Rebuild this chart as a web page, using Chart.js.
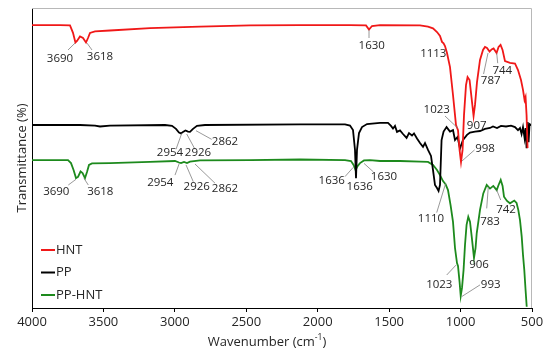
<!DOCTYPE html>
<html>
<head>
<meta charset="utf-8">
<script src="https://cdn.jsdelivr.net/npm/chart.js@4.4.1/dist/chart.umd.min.js"></script>
<style>
  html, body { margin: 0; padding: 0; background: #fff; }
  #wrap { width: 550px; height: 354px; }
</style>
</head>
<body>
<div id="wrap"><canvas id="ftir" width="550" height="354"></canvas></div>
<script>
// wavenumber (cm-1) and transmittance (arbitrary offset units)
const hntWave = [4000,3804,3734,3713,3696,3685,3664,3643,3622,3608,3594,3559,3454,3174,2824,2474,2124,1774,1662,1641,1620,1564,1284,1228,1193,1165,1144,1130,1119,1109,1095,1074,1053,1032,1018,1007,997,986,976,962,951,937,927,909,899,885,864,843,829,815,797,783,769,748,734,720,706,689,654,619,598,577,563,552,545,538,531];
const hntT = [94.3,94.3,94.2,91.7,88.5,89,90.5,90,88.5,90,91.7,92.2,92.5,93.3,93.8,94.2,94.3,94.3,94.2,92.8,94,94.3,94.2,93.8,93.2,92,90.7,88.7,88.2,87.3,85,80.3,71,61,59.3,52.7,48.7,52.7,64.3,74.3,77,76,71.7,64,67.7,75.3,82.7,86,87,86.7,85.5,86.2,86.5,85,87,87.7,86,82.3,81.7,81.5,79.3,76,72.7,69.3,70.3,64.3,53.3];

const ppWave = [4000,3664,3559,3524,3454,3069,3020,2992,2971,2957,2943,2926,2908,2894,2873,2845,2789,2124,1809,1774,1753,1739,1732,1725,1711,1690,1655,1564,1508,1487,1473,1459,1445,1424,1403,1378,1361,1340,1326,1305,1284,1263,1249,1228,1207,1193,1179,1165,1154,1144,1133,1119,1098,1074,1053,1039,1021,1004,983,955,934,899,864,829,794,773,745,717,682,647,619,598,584,573,563,552,545,538,531,524,517,507,500];
const ppT = [61,61,60.8,60.5,60.8,61,60.7,59.7,58.5,58.2,58.7,59.2,58.8,58.7,59.7,60.7,61,61.2,61.2,60.8,59.3,52.7,43.3,52.7,58.3,60.3,61.3,61.7,61.7,60.7,59.8,60.7,58.7,59.2,58,56.7,58.3,57.5,58.2,56.5,55,53.7,55,52.7,50.7,46,41,40,39,41,56,58.8,60.3,58.8,59.3,56,57,53.2,56,57.7,58.5,58.8,59,59.7,60,60.5,60,60.7,60.5,60.8,60.3,59.3,60,58,60.3,56.7,60,53.3,62,55.3,61.3,61,61];

const pphntWave = [4000,3748,3727,3709,3692,3678,3660,3646,3629,3615,3601,3580,3454,3174,2999,2971,2957,2936,2915,2894,2824,2474,2124,1809,1767,1749,1735,1721,1704,1676,1634,1564,1424,1284,1228,1193,1165,1144,1123,1105,1088,1070,1053,1039,1025,1018,1007,999,990,979,969,958,946,934,922,906,895,887,874,864,841,817,794,771,747,734,719,706,696,675,654,624,608,596,584,572,563,554,545,537];
const pphntT = [49.3,49.3,48.3,46,43.3,43.7,45.5,45,43.3,45.3,47.7,48.2,48.3,48.7,49,48.5,48.3,48.7,48.3,48.8,49.2,49.3,49.5,49.3,49,47.7,46,47.3,48.3,49.2,49.3,49,49,48.8,48.7,47.7,46,44.3,42.3,41.3,39.3,34.3,28.7,20,15,14,8.7,4,6.7,12.7,21,27.7,30.4,28.8,23.8,16.7,20,24.9,29.3,32.7,38.2,41,39.8,40.7,39.3,41,42.7,40.7,37.1,35.7,34.9,35.8,35,32.7,29.3,23.8,17.7,12.7,6,0.4];

const seriesNames = ['HNT', 'PP', 'PP-HNT'];

// peak labels: text, label position (wave, T), leader from (wave, T) to (wave, T) or null
const peakLabels = [
  ['3690', 3804, 83.2, [3748, 86, 3699, 88.3]],
  ['3618', 3524, 83.8, [3580, 86, 3615, 88.3]],
  ['1630', 1622, 87.5, [1641, 90, 1641, 92.7]],
  ['1113', 1191, 84.9, null],
  ['787', 789, 75.8, [839, 78, 808, 85]],
  ['744', 708, 79.2, [740, 81.6, 747, 84.9]],
  ['1023', 1167, 66, [1109, 64, 1018, 59.9]],
  ['907', 887, 60.7, null],
  ['998', 829, 53.2, [902, 52.7, 990, 49]],
  ['2954', 3034, 51.7, [2992, 52.9, 2952, 58.2]],
  ['2926', 2838, 51.7, [2859, 52.9, 2917, 58]],
  ['2862', 2649, 55.4, [2742, 56.2, 2852, 59.1]],
  ['1636', 1902, 42.3, [1809, 43.8, 1751, 46.9]],
  ['1636', 1706, 40.4, null],
  ['1630', 1536, 43.8, [1611, 45.4, 1676, 48.2]],
  ['1110', 1207, 29.9, [1167, 31.8, 1104, 41.6]],
  ['3690', 3830, 38.8, [3746, 41, 3692, 42.9]],
  ['3618', 3522, 38.8, [3606, 41, 3636, 43.2]],
  ['2954', 3102, 41.8, [2999, 44.3, 2969, 48.2]],
  ['2926', 2847, 40.4, [2871, 42.1, 2922, 47.7]],
  ['2862', 2649, 39.6, [2719, 41.6, 2859, 48]],
  ['1023', 1149, 7.7, [1097, 11, 1032, 14.3]],
  ['993', 789, 7.9, [864, 7.7, 992, 3.8]],
  ['906', 871, 14.3, null],
  ['783', 794, 28.8, [817, 33.2, 806, 40.4]],
  ['742', 682, 32.9, [747, 39.3, 719, 36]]
];

const colors = ['#f01818', '#000000', '#1d8a1d'];
const FONT = "'Open Sans', 'Liberation Sans', sans-serif";

function pts(xs, ys) {
  return xs.map((x, i) => ({ x: x, y: ys[i] }));
}

const extras = {
  id: 'extras',
  afterDatasetsDraw(chart) {
    const { ctx, chartArea: a, scales: { x, y } } = chart;
    ctx.save();
    // light frame on top / right
    ctx.strokeStyle = '#b8b8b8';
    ctx.lineWidth = 1;
    ctx.beginPath();
    ctx.moveTo(a.left, a.top + 0.5);
    ctx.lineTo(a.right - 0.5, a.top + 0.5);
    ctx.lineTo(a.right - 0.5, a.bottom);
    ctx.stroke();

    // peak labels
    ctx.font = '11.5px ' + FONT;
    ctx.textAlign = 'center';
    ctx.textBaseline = 'middle';
    peakLabels.forEach(p => {
      if (p[3]) {
        ctx.strokeStyle = '#7f7f7f';
        ctx.lineWidth = 0.8;
        ctx.beginPath();
        ctx.moveTo(x.getPixelForValue(p[3][0]), y.getPixelForValue(p[3][1]));
        ctx.lineTo(x.getPixelForValue(p[3][2]), y.getPixelForValue(p[3][3]));
        ctx.stroke();
      }
      ctx.fillStyle = '#262626';
      ctx.fillText(p[0], x.getPixelForValue(p[1]), y.getPixelForValue(p[2]));
    });

    // legend, lower left
    ctx.font = '13px ' + FONT;
    ctx.textAlign = 'left';
    chart.data.datasets.forEach((ds, i) => {
      const ly = a.top + 242 + i * 22.5;
      ctx.strokeStyle = ds.borderColor;
      ctx.lineWidth = 2;
      ctx.beginPath();
      ctx.moveTo(a.left + 9, ly);
      ctx.lineTo(a.left + 23, ly);
      ctx.stroke();
      ctx.fillStyle = '#262626';
      ctx.fillText(ds.label, a.left + 24, ly);
    });

    // x axis title with superscript
    const tx = 267, ty = 342;
    const p1 = 'Wavenumber (cm', sup = '-1', p2 = ')';
    ctx.font = '13px ' + FONT;
    const w1 = ctx.measureText(p1).width, w3 = ctx.measureText(p2).width;
    ctx.font = '8.5px ' + FONT;
    const w2 = ctx.measureText(sup).width;
    let sx = tx - (w1 + w2 + w3) / 2;
    ctx.font = '13px ' + FONT;
    ctx.fillText(p1, sx, ty);
    ctx.font = '8.5px ' + FONT;
    ctx.fillText(sup, sx + w1, ty - 4);
    ctx.font = '13px ' + FONT;
    ctx.fillText(p2, sx + w1 + w2, ty);
    ctx.restore();
  }
};

new Chart(document.getElementById('ftir'), {
  type: 'line',
  data: {
    datasets: [
      { label: seriesNames[0], data: pts(hntWave, hntT), borderColor: colors[0] },
      { label: seriesNames[1], data: pts(ppWave, ppT), borderColor: colors[1] },
      { label: seriesNames[2], data: pts(pphntWave, pphntT), borderColor: colors[2] }
    ]
  },
  options: {
    responsive: false,
    animation: false,
    layout: { padding: { top: 8, right: 18, left: 0, bottom: 0 } },
    elements: {
      line: { borderWidth: 1.8, tension: 0, fill: false },
      point: { radius: 0 }
    },
    plugins: { legend: { display: false }, tooltip: { enabled: false } },
    scales: {
      x: {
        type: 'linear',
        reverse: true,
        min: 500,
        max: 4000,
        ticks: { stepSize: 500, color: '#262626', font: { family: FONT, size: 13 }, padding: 2, maxRotation: 0,
                 callback: v => String(v) },
        grid: { drawOnChartArea: false, drawTicks: true, tickLength: 4, color: '#000' },
        border: { color: '#000', width: 1 },
        afterFit(s) { s.height = 46; }
      },
      y: {
        min: 0,
        max: 100,
        ticks: { display: false },
        grid: { display: false },
        border: { color: '#000', width: 1 },
        title: { display: true, text: 'Transmittance (%)', color: '#262626', font: { family: FONT, size: 13 }, padding: { top: 14, bottom: 0 } },
        afterFit(s) { s.width = 32; }
      }
    }
  },
  plugins: [extras]
});
</script>
</body>
</html>
